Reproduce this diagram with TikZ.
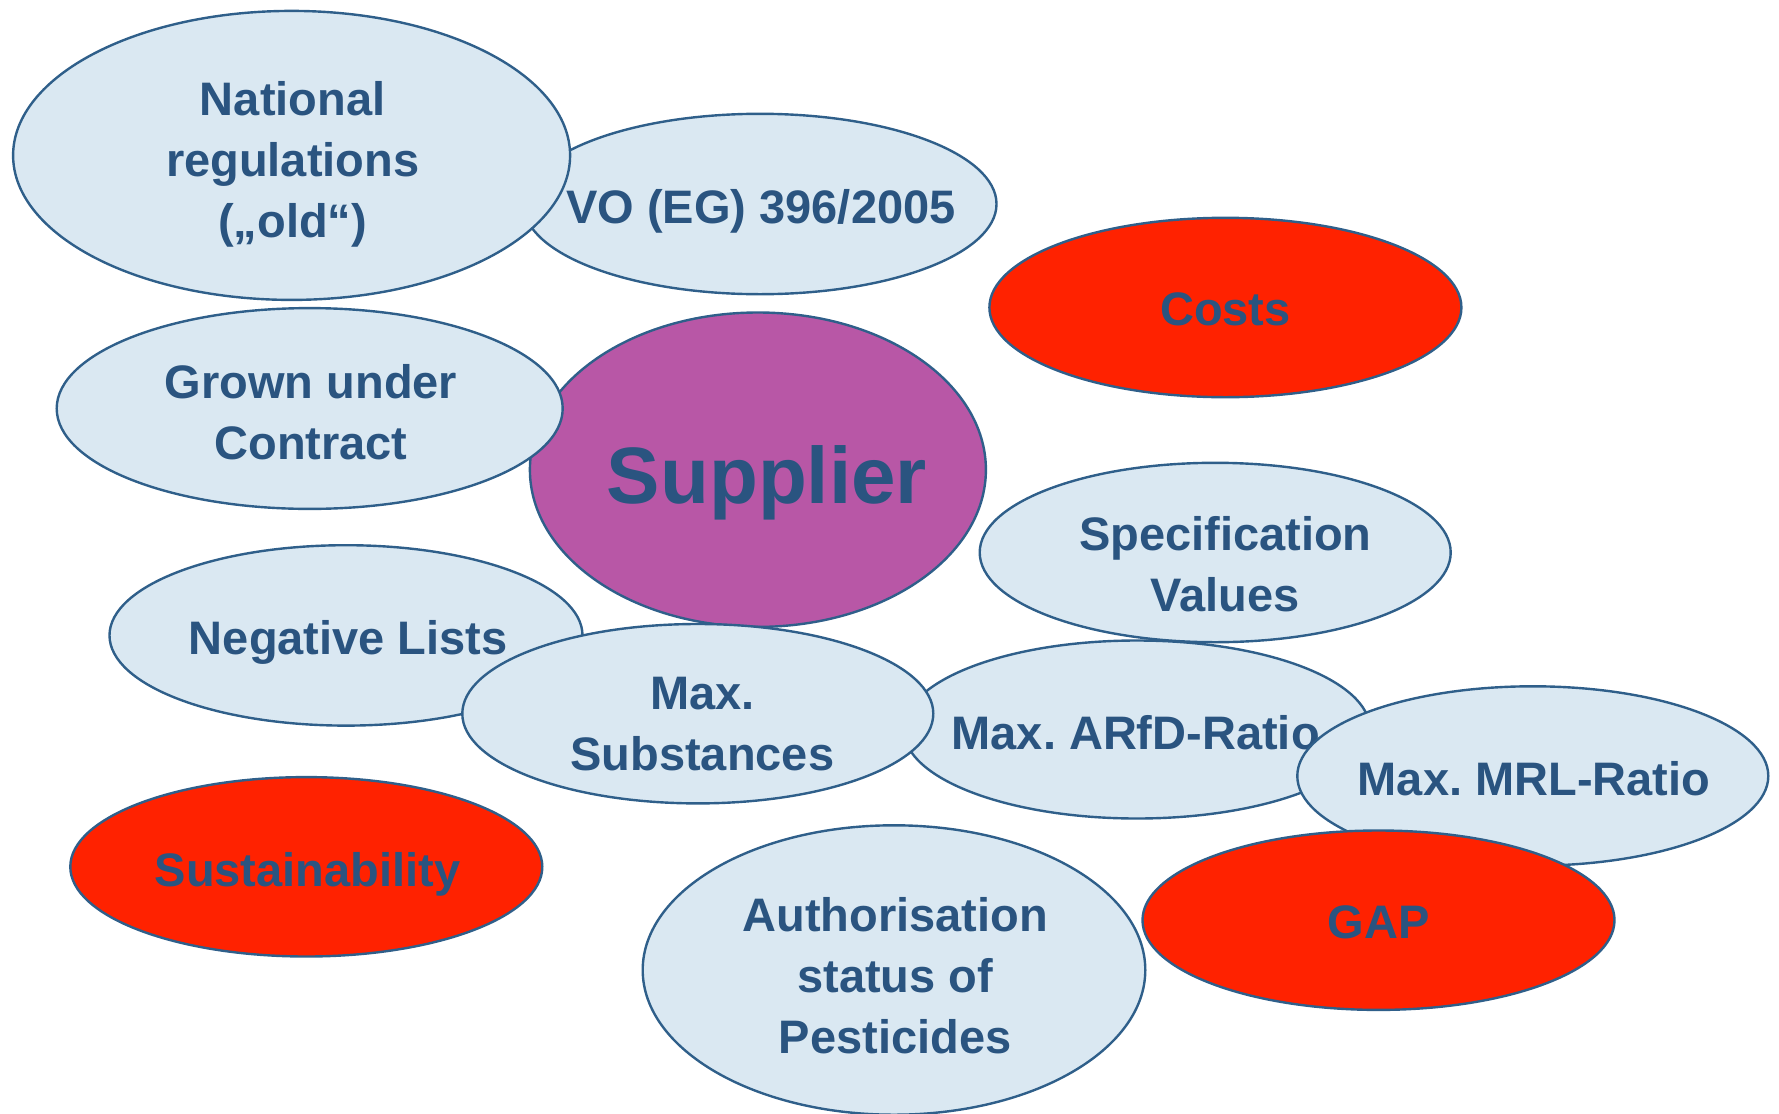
\documentclass[tikz,border=0pt]{standalone}
\usepackage{fontspec}
\setmainfont{Liberation Sans}
\frenchspacing
\usetikzlibrary{shapes.geometric}
\definecolor{bubblefill}{HTML}{DAE8F2}
\definecolor{bubbleline}{HTML}{2F5F8A}
\definecolor{labeltext}{HTML}{2A5480}
\definecolor{hotred}{HTML}{FF2200}
\definecolor{supplierpurple}{HTML}{B857A6}
\tikzset{
  bubble/.style={ellipse, draw=bubbleline, line width=1.2pt, fill=bubblefill, inner sep=0pt},
  redbubble/.style={bubble, fill=hotred},
  hubbubble/.style={bubble, fill=supplierpurple},
  lbl/.style={font=\fontsize{23.5}{30.5}\selectfont\bfseries, text=labeltext, align=center, inner sep=0pt},
  onelbl/.style={lbl, text height=16.9pt, text depth=0pt},
  biglbl/.style={lbl, font=\fontsize{40}{48}\selectfont\bfseries, text height=28.8pt, text depth=0pt}
}
\begin{document}
\begin{tikzpicture}[x=0.5pt, y=-0.5pt]
\useasboundingbox (0,0) rectangle (1779,1114);

% back row
\node[bubble, minimum width=236.5pt, minimum height=90.2pt] (vo) at (760,204) {};
\node[onelbl] (vo-t) at (761,206.5) {VO (EG) 396/2005};

\node[bubble, minimum width=278.5pt, minimum height=144.5pt] (nat) at (291.6,155.4) {};
\node[lbl] (nat-t) at (292.7,164.5) {National\\regulations\\(„old“)};

\node[hubbubble, minimum width=228pt, minimum height=157.2pt] (sup) at (757.9,469.7) {};
\node[biglbl] (sup-t) at (767,474.3) {Supplier};

\node[bubble, minimum width=253pt, minimum height=100.4pt] (grown) at (309.7,408.5) {};
\node[lbl] (grown-t) at (311,411.9) {Grown under\\Contract};

\node[bubble, minimum width=236.5pt, minimum height=90.2pt] (neg) at (346,635.4) {};
\node[onelbl] (neg-t) at (348.3,637.6) {Negative Lists};

\node[bubble, minimum width=233.2pt, minimum height=89pt] (arfd) at (1136.9,729.5) {};
\node[onelbl] (arfd-t) at (1135.7,733) {Max. ARfD-Ratio};

\node[bubble, minimum width=235.5pt, minimum height=89.7pt] (subst) at (697.8,713.7) {};
\node[lbl] (subst-t) at (702.3,723.9) {Max.\\Substances};

\node[bubble, minimum width=235.5pt, minimum height=89.7pt] (spec) at (1215.2,552.5) {};
\node[lbl] (spec-t) at (1225.4,563.9) {Specification\\Values};

\node[redbubble, minimum width=236pt, minimum height=89.7pt] (costs) at (1225.4,307.5) {};
\node[onelbl] (costs-t) at (1225.4,308.6) {Costs};

\node[bubble, minimum width=235.5pt, minimum height=89.7pt] (mrl) at (1532.8,776) {};
\node[onelbl] (mrl-t) at (1534,778.3) {Max. MRL-Ratio};

\node[redbubble, minimum width=236pt, minimum height=89.7pt] (gap) at (1378.5,920.2) {};
\node[onelbl] (gap-t) at (1378.5,921.3) {GAP};

\node[redbubble, minimum width=236pt, minimum height=89.7pt] (sust) at (306.3,866.8) {};
\node[onelbl] (sust-t) at (307.5,869.1) {Sustainability};

\node[bubble, minimum width=251.3pt, minimum height=144.7pt] (auth) at (894,970) {};
\node[lbl] (auth-t) at (895.2,975.8) {Authorisation\\status of\\Pesticides};
\end{tikzpicture}
\end{document}
